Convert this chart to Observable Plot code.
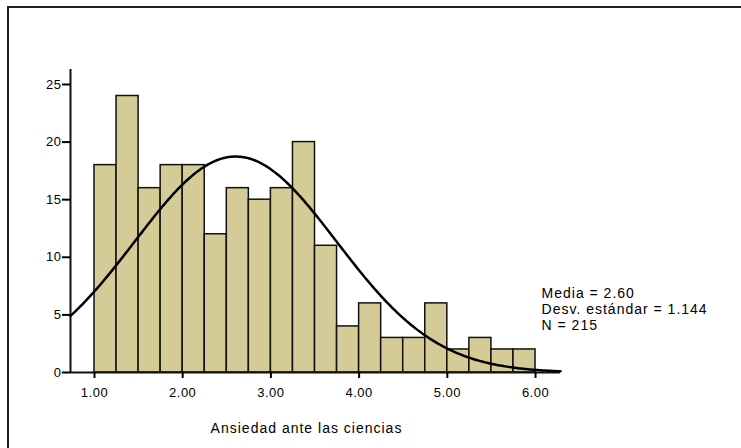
<!DOCTYPE html>
<html>
<head>
<meta charset="utf-8">
<script src="https://cdn.jsdelivr.net/npm/d3@7"></script>
<script src="https://cdn.jsdelivr.net/npm/@observablehq/plot@0.6"></script>
<style>
  html, body { margin: 0; padding: 0; background: #fff; }
  #wrap { position: relative; width: 741px; height: 448px; overflow: hidden; }
  #frame { position: absolute; left: 7px; top: 6px; width: 800px; height: 500px;
           border-top: 2px solid #222; border-left: 2px solid #222; box-sizing: border-box; }
  #chart { position: absolute; left: 0; top: 0; }
</style>
</head>
<body>
<div id="wrap"><div id="frame"></div><div id="chart"></div></div>
<script>
// Data
const binLow = [1.00,1.25,1.50,1.75,2.00,2.25,2.50,2.75,3.00,3.25,3.50,3.75,4.00,4.25,4.50,4.75,5.00,5.25,5.50,5.75];
const counts = [18,24,16,18,18,12,16,15,16,20,11,4,6,3,3,6,2,3,2,2];
const binWidth = 0.25;
const xTicks = [1,2,3,4,5,6];
const yTicks = [0,5,10,15,20,25];
const statMean = 2.60;
const statSD = 1.144;
const statN = 215;
const xLabel = "Ansiedad ante las ciencias";
const statLines = ["Media = 2.60", "Desv. estándar = 1.144", "N = 215"];

const xMin = 0.728, xMax = 6.283, yMax = 26.3;

const bars = binLow.map((b, i) => ({x1: b, x2: b + binWidth, count: counts[i]}));

// normal curve implied by the printed mean, SD and N
const curve = d3.range(0, 301).map(i => {
  const x = xMin + (xMax - xMin) * i / 300;
  const z = (x - statMean) / statSD;
  return {x, y: statN * binWidth * Math.exp(-0.5 * z * z) / (statSD * Math.sqrt(2 * Math.PI))};
});

const chart = Plot.plot({
  width: 741,
  height: 448,
  marginLeft: 70,
  marginRight: 181,
  marginTop: 69,
  marginBottom: 76,
  style: {fontFamily: "Arial, 'Liberation Sans', sans-serif", fontSize: "13px", color: "#000", background: "transparent"},
  x: {domain: [xMin, xMax]},
  y: {domain: [0, yMax]},
  marks: [
    Plot.rectY(bars, {x1: "x1", x2: "x2", y: "count", fill: "#d4cb96", stroke: "#111", strokeWidth: 1.5}),
    Plot.ruleX([xMin], {y1: 0, y2: yMax, stroke: "#111", strokeWidth: 2}),
    Plot.ruleY([0], {stroke: "#111", strokeWidth: 2}),
    Plot.line(curve, {x: "x", y: "y", stroke: "#000", strokeWidth: 2.5}),
    Plot.axisY({ticks: yTicks, tickSize: 8, tickPadding: 1, tickFormat: d3.format("d"), label: null, strokeWidth: 2, fontSize: 13}),
    Plot.axisX({ticks: xTicks, tickSize: 6, tickPadding: 9, tickFormat: d3.format(".2f"), label: null, strokeWidth: 2, fontSize: 13}),
    Plot.text([xLabel], {frameAnchor: "bottom", dx: -9, dy: 60, fontSize: 14, fill: "#000"}),
    Plot.text([statLines.join("\n")], {x: 6.068, y: 6.86, textAnchor: "start", lineAnchor: "top", dy: -7, lineHeight: 1.15, fontSize: 14, fill: "#000"})
  ]
});
d3.select(chart).selectAll('g[aria-label="text"] text').style("letter-spacing", "1px");
d3.select(chart).selectAll('g[aria-label="x-axis tick label"] text, g[aria-label="y-axis tick label"] text').style("letter-spacing", "0.5px");
document.getElementById("chart").appendChild(chart);
</script>
</body>
</html>
